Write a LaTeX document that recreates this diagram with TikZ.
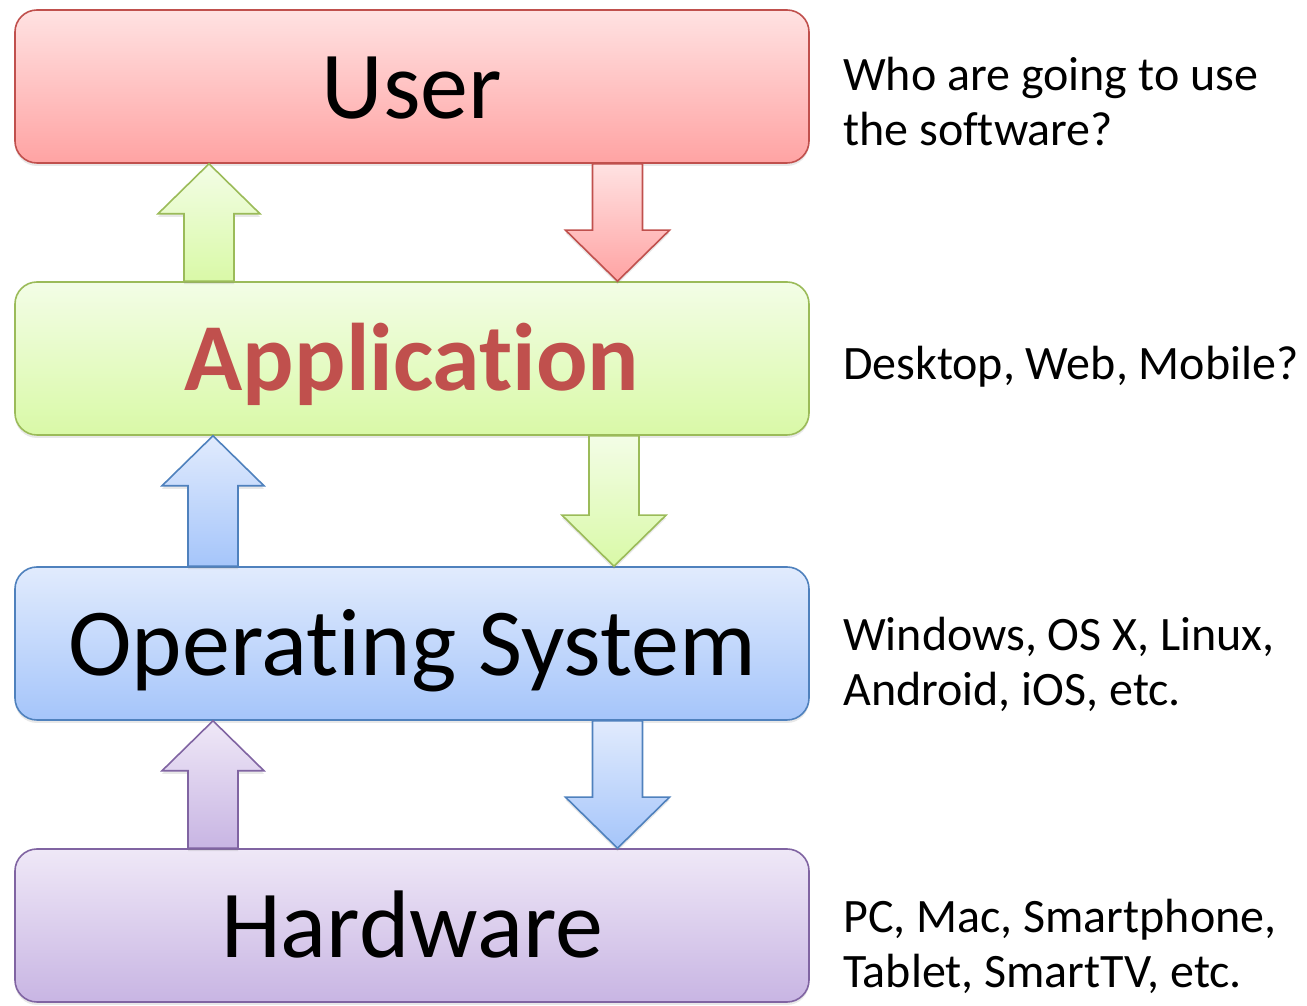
\documentclass[tikz,border=0pt]{standalone}
\usepackage{fontspec}
\setmainfont{Carlito}[RawFeature={-liga}]
\usetikzlibrary{calc,shadows}
\definecolor{redline}{HTML}{C0504D}
\definecolor{redtop}{HTML}{FFE2E2}
\definecolor{redbot}{HTML}{FFA3A3}
\definecolor{greenline}{HTML}{9BBB59}
\definecolor{greentop}{HTML}{F3FDE6}
\definecolor{greenbot}{HTML}{D9F9A7}
\definecolor{blueline}{HTML}{4F81BD}
\definecolor{bluetop}{HTML}{E1EBFD}
\definecolor{bluebot}{HTML}{A5C5FA}
\definecolor{purpleline}{HTML}{8064A2}
\definecolor{purpletop}{HTML}{EFE8F7}
\definecolor{purplebot}{HTML}{C8B5E3}
\newcommand\blockup[4]{\path[#1] let \p1=(#3.north), \p2=(#4.south) in
  (#2pt-25pt,\y1) -- (#2pt-25pt,\y2-50pt) -- (#2pt-51pt,\y2-50pt) -- (#2pt,\y2)
  -- (#2pt+51pt,\y2-50pt) -- (#2pt+25pt,\y2-50pt) -- (#2pt+25pt,\y1) -- cycle;}
\newcommand\blockdown[4]{\path[#1] let \p1=(#3.south), \p2=(#4.north) in
  (#2pt-25pt,\y1) -- (#2pt+25pt,\y1) -- (#2pt+25pt,\y2+51pt) -- (#2pt+52pt,\y2+51pt)
  -- (#2pt,\y2) -- (#2pt-52pt,\y2+51pt) -- (#2pt-25pt,\y2+51pt) -- cycle;}
\begin{document}
\begin{tikzpicture}[x=1pt,y=1pt,
  softshadow/.style={drop shadow={opacity=0.18, shadow xshift=0pt, shadow yshift=-3pt}},
  layer/.style={rounded corners=22pt, line width=1.6pt, minimum width=794pt,
    minimum height=153pt, inner sep=0pt, text height=64pt, text depth=0pt,
    font=\fontsize{96}{115}\selectfont, softshadow},
  redfill/.style={draw=redline, top color=redtop, bottom color=redbot},
  greenfill/.style={draw=greenline, top color=greentop, bottom color=greenbot},
  bluefill/.style={draw=blueline, top color=bluetop, bottom color=bluebot},
  purplefill/.style={draw=purpleline, top color=purpletop, bottom color=purplebot},
  blockarrow/.style={line width=1.6pt, softshadow},
  info/.style={anchor=base west, inner sep=0pt, font=\fontsize{48}{58}\selectfont}
]
\useasboundingbox (0,0) rectangle (1307,1006);
\node[layer, redfill] (user) at (412,919.5) {User};
\node[layer, greenfill, text=redline, font=\fontsize{96}{115}\selectfont\bfseries] (app) at (412,647.5) {Application};
\node[layer, bluefill] (os) at (412,362.5) {Operating System};
\node[layer, purplefill] (hw) at (412,80.5) {Hardware};

\blockup{blockarrow, greenfill}{209}{app}{user}
\blockdown{blockarrow, redfill}{617.5}{user}{app}
\blockup{blockarrow, bluefill}{213}{os}{app}
\blockdown{blockarrow, greenfill}{614}{app}{os}
\blockup{blockarrow, purplefill}{213}{hw}{os}
\blockdown{blockarrow, bluefill}{617.5}{os}{hw}

\node[info] (userinfoa) at (843,915) {Who are going to use};
\node[info] (userinfob) at (843,860) {the software?};
\node[info] (appinfo) at (843,626) {Desktop, Web, Mobile?};
\node[info] (osinfoa) at (843,355) {Windows, OS X, Linux,};
\node[info] (osinfob) at (843,300) {Android, iOS, etc.};
\node[info] (hwinfoa) at (843,73) {PC, Mac, Smartphone,};
\node[info] (hwinfob) at (843,18) {Tablet, SmartTV, etc.};
\end{tikzpicture}
\end{document}
